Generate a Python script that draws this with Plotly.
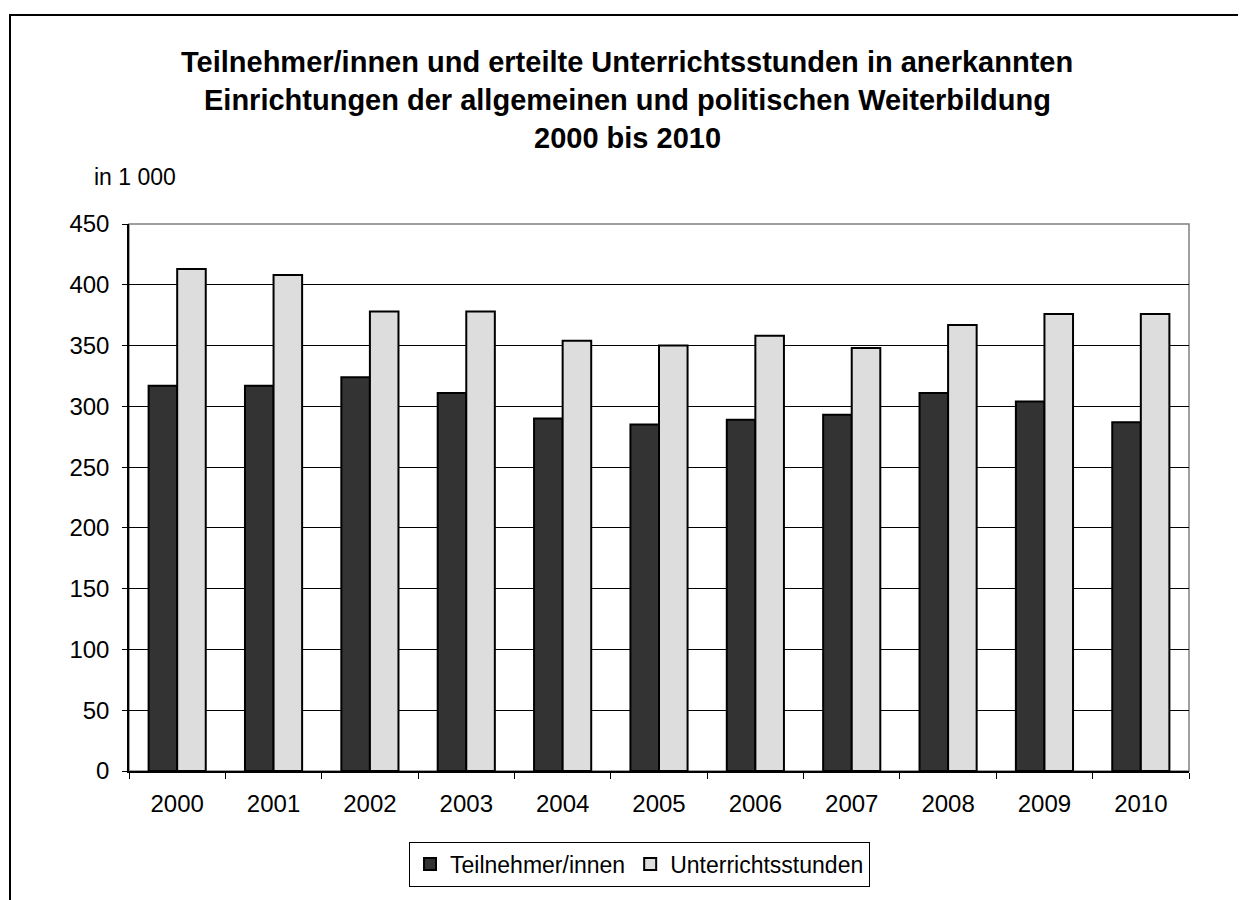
import plotly.graph_objects as go

years = ["2000", "2001", "2002", "2003", "2004", "2005", "2006", "2007", "2008", "2009", "2010"]
teilnehmer = [317, 317, 324, 311, 290, 285, 289, 293, 311, 304, 287]
unterrichtsstunden = [413, 408, 378, 378, 354, 350, 358, 348, 367, 376, 376]
y_ticks = [0, 50, 100, 150, 200, 250, 300, 350, 400, 450]

# page body has an 8px default margin; compensate so the figure fills the window
OFF = 8
W, H = 1246, 900
L, R, T, B = 129, 57, 224, 129
PW, PH = W - L - R, H - T - B


def px(x):
    return (x - L) / PW


def py(y):
    return (H - B - y) / PH


FONT = "Liberation Sans, Arial, sans-serif"

fig = go.Figure()
fig.add_trace(go.Bar(
    x=years, y=teilnehmer, name="Teilnehmer/innen",
    marker=dict(color="#333333", line=dict(color="#000000", width=2)),
))
fig.add_trace(go.Bar(
    x=years, y=unterrichtsstunden, name="Unterrichtsstunden",
    marker=dict(color="#DDDDDD", line=dict(color="#000000", width=2)),
))

title_lines = [
    ("Teilnehmer/innen und erteilte Unterrichtsstunden in anerkannten", 62),
    ("Einrichtungen der allgemeinen und politischen Weiterbildung", 100),
    ("2000 bis 2010", 138),
]
annotations = []
for txt, ypix in title_lines:
    annotations.append(dict(
        text="<b>" + txt + "</b>", x=px(627), y=py(ypix), xref="paper", yref="paper",
        xanchor="center", yanchor="middle", showarrow=False,
        font=dict(family=FONT, size=29, color="#000000"),
    ))
annotations.append(dict(
    text="in 1 000", x=px(135), y=py(177), xref="paper", yref="paper",
    xanchor="center", yanchor="middle", showarrow=False,
    font=dict(family=FONT, size=23, color="#000000"),
))

shapes = [
    # outer chart frame
    dict(type="rect", xref="paper", yref="paper",
         x0=px(10), x1=px(1262), y0=py(15), y1=py(915),
         line=dict(color="#000000", width=2), fillcolor="rgba(0,0,0,0)", layer="above"),
    # plot area frame (gray)
    dict(type="rect", xref="paper", yref="paper", x0=0, x1=1, y0=0, y1=1,
         line=dict(color="#808080", width=1.5), fillcolor="rgba(0,0,0,0)", layer="below"),
]

fig.update_layout(
    width=W - OFF, height=H - OFF,
    margin=dict(l=L - OFF, r=R, t=T - OFF, b=B, pad=0),
    paper_bgcolor="#FFFFFF", plot_bgcolor="#FFFFFF",
    barmode="group", bargap=0.407, bargroupgap=0,
    font=dict(family=FONT, size=23, color="#000000"),
    showlegend=True,
    legend=dict(
        orientation="h", x=px(639.5), y=py(864), xanchor="center", yanchor="middle",
        bordercolor="#000000", borderwidth=1, bgcolor="#FFFFFF",
        font=dict(family=FONT, size=23, color="#000000"),
        itemwidth=30, tracegroupgap=0,
    ),
    annotations=annotations,
    shapes=shapes,
)

fig.update_xaxes(
    type="category", showline=True, linecolor="#000000", linewidth=1.5,
    ticks="outside", tickson="boundaries", ticklen=6, tickcolor="#000000", tickwidth=1,
    showgrid=False, tickfont=dict(family=FONT, size=24, color="#000000"),
    ticklabelstandoff=10,
)
fig.update_yaxes(
    range=[0, 450], tickvals=y_ticks, showline=True, linecolor="#000000", linewidth=1.5,
    ticks="outside", ticklen=5, tickcolor="#000000", tickwidth=1,
    showgrid=True, gridcolor="#000000", gridwidth=1, zeroline=False,
    tickfont=dict(family=FONT, size=24, color="#000000"),
    ticklabelstandoff=8,
)

fig.write_html("out.html")
